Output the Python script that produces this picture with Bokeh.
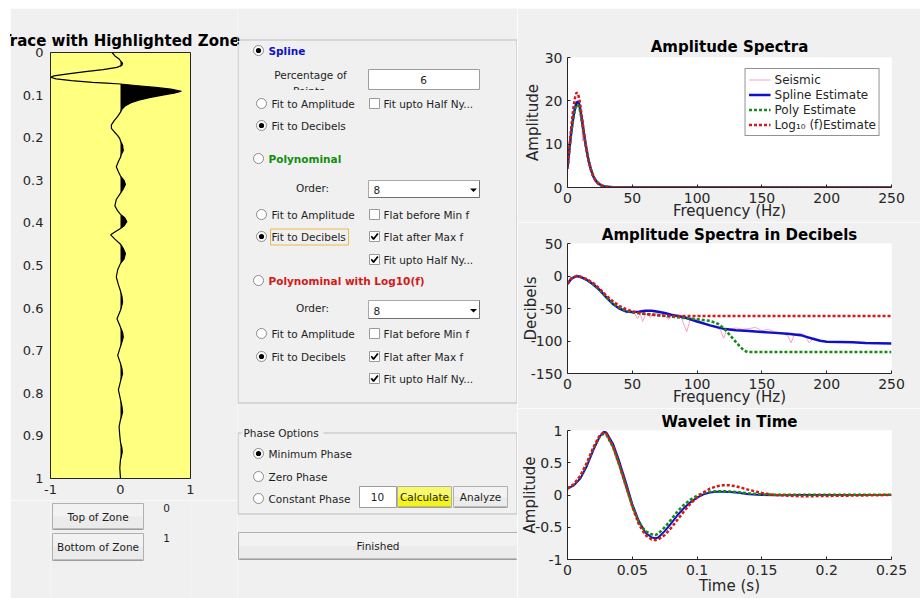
import numpy as np
from bokeh.plotting import figure
from bokeh.layouts import row, column
from bokeh.models import Range1d, FixedTicker, Label, Legend, LegendItem, Spacer
from bokeh.core.properties import value
from bokeh.embed import file_html
from bokeh.resources import INLINE

FONT = "DejaVu Sans"
PANEL = "#f0f0f0"
INK = "#262626"
TXT = "#1e1e1e"
BLUE = "#1010c8"
GREEN = "#128c12"
RED = "#d01a1a"
PINK = "#f7a3c9"

# ---------------- seismic trace (time in s, normalised amplitude) ----------------
trace_time = [0.000, 0.008, 0.015, 0.020, 0.025, 0.030, 0.035, 0.040, 0.045, 0.050,
              0.055, 0.058, 0.062, 0.066, 0.070, 0.072, 0.074, 0.078, 0.082, 0.086,
              0.091, 0.095, 0.100, 0.106, 0.112, 0.118, 0.125, 0.132, 0.140, 0.150,
              0.160, 0.170, 0.178, 0.186, 0.195, 0.202, 0.208, 0.218, 0.230, 0.240,
              0.246, 0.256, 0.268, 0.280, 0.290, 0.300, 0.310, 0.320, 0.330, 0.345,
              0.360, 0.372, 0.380, 0.388, 0.397, 0.407, 0.413, 0.420, 0.428, 0.438,
              0.450, 0.460, 0.472, 0.485, 0.495, 0.510, 0.527, 0.545, 0.560, 0.572,
              0.586, 0.600, 0.605, 0.625, 0.645, 0.657, 0.668, 0.680, 0.690, 0.711,
              0.730, 0.742, 0.754, 0.766, 0.772, 0.792, 0.815, 0.830, 0.844, 0.857,
              0.862, 0.878, 0.900, 0.915, 0.928, 0.938, 0.950, 0.955, 0.975, 1.000]
trace_amp = [-0.12, -0.08, -0.02, 0.00, 0.03, 0.02, -0.05, -0.25, -0.50, -0.75,
             -0.95, -1.00, -0.92, -0.70, -0.40, -0.20, 0.00, 0.25, 0.50, 0.72,
             0.87, 0.78, 0.60, 0.41, 0.26, 0.15, 0.07, 0.025, 0.00, -0.04,
             -0.09, -0.13, -0.13, -0.09, -0.04, -0.01, 0.00, 0.03, 0.04, 0.01,
             0.00, -0.03, -0.06, -0.03, 0.00, 0.05, 0.07, 0.04, 0.00, -0.06,
             -0.08, -0.04, 0.00, 0.06, 0.09, 0.05, 0.00, -0.07, -0.14, -0.08,
             0.00, 0.04, 0.07, 0.05, 0.00, -0.04, -0.06, -0.03, 0.00, 0.02,
             0.03, 0.01, 0.00, -0.05, 0.00, 0.03, 0.04, 0.02, 0.00, -0.04,
             0.00, 0.02, 0.03, 0.01, 0.00, -0.03, 0.00, 0.02, 0.03, 0.01,
             0.00, -0.02, -0.01, 0.00, 0.02, 0.025, 0.01, 0.00, -0.01, 0.00]
trace_x_ticks = [-1, 0, 1]
trace_x_labels = ["-1", "0", "1"]
trace_y_ticks = [0, 0.1, 0.2, 0.3, 0.4, 0.5, 0.6, 0.7, 0.8, 0.9, 1]
trace_y_labels = ["0", "0.1", "0.2", "0.3", "0.4", "0.5", "0.6", "0.7", "0.8", "0.9", "1"]

# ---------------- amplitude spectra ----------------
amp_freq = [0, 1, 2, 3, 4, 5, 6, 7, 8, 9, 10, 12, 14, 16, 18, 20, 22, 24, 26, 28, 30, 35, 40, 250]
spline_amp = [4.6, 7.5, 10.3, 13.0, 15.2, 17.1, 18.6, 19.6, 19.8, 19.2, 17.8, 13.8, 9.9, 6.6,
              4.2, 2.5, 1.5, 0.9, 0.5, 0.3, 0.15, 0.05, 0.02, 0.0]
poly_amp = [4.4, 7.4, 10.2, 12.9, 15.0, 16.8, 18.2, 19.0, 19.1, 18.5, 17.2, 13.6, 9.9, 6.7,
            4.3, 2.6, 1.6, 0.95, 0.55, 0.3, 0.15, 0.05, 0.02, 0.0]
log_amp = [4.3, 7.6, 11.0, 14.2, 17.0, 19.3, 21.0, 21.9, 21.7, 20.6, 18.8, 14.2, 9.9, 6.5,
           4.1, 2.4, 1.4, 0.8, 0.45, 0.25, 0.12, 0.04, 0.02, 0.0]
seis_amp_freq = [0, 1, 2, 3, 4, 5, 6, 7, 8, 9, 10, 11, 11.5, 12, 14, 16, 18, 20, 22, 24, 26,
                 28, 30, 35, 40, 250]
seis_amp = [4.5, 7.6, 10.4, 13.2, 15.6, 17.5, 19.0, 19.9, 20.1, 19.5, 18.2, 16.5, 10.8, 15.8,
            10.0, 6.8, 4.4, 2.5, 1.6, 0.9, 0.6, 0.3, 0.2, 0.05, 0.02, 0.0]
freq_ticks = [0, 50, 100, 150, 200, 250]
freq_labels = ["0", "50", "100", "150", "200", "250"]
amp_ticks = [0, 10, 20, 30]
amp_labels = ["0", "10", "20", "30"]

# ---------------- spectra in decibels ----------------
seis_db_freq = [0, 3, 7, 10, 15, 20, 25, 30, 35, 40, 45, 50, 52, 54, 56, 58, 60, 62, 64, 66,
                70, 75, 78, 80, 85, 88, 92, 95, 100, 105, 110, 115, 118, 120.5, 123, 127, 130,
                135, 140, 145, 150, 155, 160, 165, 170, 172.5, 175, 180, 183, 186.5, 190, 195,
                200, 210, 220, 230, 240, 250]
seis_db = [-13, -4.5, 0, -1.5, -6, -13, -22, -33, -43, -49, -53, -56, -58, -66, -58, -70, -60,
           -58, -64, -57, -58, -60, -67, -60, -61, -65, -86, -64, -67, -72, -76, -80, -83, -96,
           -82, -81, -80, -82, -81, -79, -84, -82, -86, -87, -92, -103, -90, -88, -91, -103,
           -95, -100, -101, -101.5, -102, -103, -103.5, -104]
spline_db_freq = [0, 3, 7, 10, 15, 20, 25, 30, 35, 40, 45, 50, 55, 60, 65, 70, 75, 80, 90, 100,
                  110, 120, 130, 140, 150, 160, 170, 180, 185, 190, 195, 200, 210, 220, 230,
                  240, 250]
spline_db = [-12, -4, 0, -1.5, -6, -13, -22, -33, -43, -50, -54.5, -55.5, -55, -53.5, -53.5,
             -55, -57, -59.5, -63.5, -70, -76, -81, -83.5, -84.5, -86, -87.5, -89, -91, -94,
             -97, -99.5, -101, -101.5, -102, -103, -103.5, -104]
poly_db_freq = [0, 3, 7, 10, 15, 20, 25, 30, 35, 40, 45, 50, 55, 60, 65, 70, 75, 80, 90, 100,
                110, 116, 121, 126, 131, 136, 139, 250]
poly_db = [-12, -4, 0, -1.5, -6, -13, -22, -33, -42, -49, -53.5, -56, -57.5, -58.5, -59.5,
           -60.5, -61.5, -62.5, -64.5, -66.5, -69, -73.5, -81, -92.5, -104, -114.5, -117, -117]
log_db_freq = [0, 3, 7, 10, 15, 20, 25, 30, 35, 40, 45, 50, 55, 60, 65, 70, 75, 80, 250]
log_db = [-12, -4, 0, -1, -5, -11, -20, -30, -39, -46, -51, -54.5, -56.5, -58, -59.5, -60.5,
          -61, -61.5, -61.5]
db_ticks = [-150, -100, -50, 0, 50]
db_labels = ["-150", "-100", "-50", "0", "50"]

# ---------------- wavelets in time ----------------
wav_time = [0, 0.005, 0.01, 0.015, 0.02, 0.025, 0.028, 0.03, 0.035, 0.04, 0.045, 0.05, 0.055,
            0.06, 0.065, 0.068, 0.07, 0.075, 0.08, 0.085, 0.09, 0.095, 0.1, 0.105, 0.11,
            0.115, 0.12, 0.125, 0.13, 0.14, 0.15, 0.16, 0.18, 0.2, 0.25]
spline_wav = [0.10, 0.15, 0.26, 0.45, 0.70, 0.91, 0.98, 0.97, 0.80, 0.52, 0.20, -0.14, -0.40,
              -0.58, -0.66, -0.67, -0.66, -0.56, -0.44, -0.31, -0.20, -0.11, -0.04, 0.01,
              0.04, 0.05, 0.05, 0.045, 0.04, 0.01, 0.0, -0.005, 0.0, 0.0, 0.0]
poly_wav = [0.10, 0.16, 0.29, 0.49, 0.72, 0.91, 0.95, 0.93, 0.75, 0.46, 0.14, -0.17, -0.42,
            -0.56, -0.61, -0.62, -0.60, -0.50, -0.38, -0.25, -0.15, -0.07, -0.01, 0.03, 0.05,
            0.06, 0.06, 0.055, 0.045, 0.025, 0.01, 0.005, 0.005, 0.005, 0.005]
log_wav = [0.10, 0.17, 0.30, 0.50, 0.74, 0.93, 0.97, 0.95, 0.76, 0.47, 0.15, -0.18, -0.45,
           -0.62, -0.69, -0.70, -0.69, -0.62, -0.51, -0.38, -0.25, -0.13, -0.04, 0.04, 0.10,
           0.135, 0.15, 0.15, 0.135, 0.08, 0.03, 0.0, -0.02, -0.015, 0.0]
time_ticks = [0, 0.05, 0.1, 0.15, 0.2, 0.25]
time_labels = ["0", "0.05", "0.1", "0.15", "0.2", "0.25"]
wav_ticks = [-1, -0.5, 0, 0.5, 1]
wav_labels = ["-1", "-0.5", "0", "0.5", "1"]


def style_axis(ax, ticks, labels, size="14px", standoff=7, tick_in=3):
    ax.ticker = FixedTicker(ticks=ticks)
    ax.major_label_overrides = dict(zip(ticks, labels))
    ax.axis_line_color = INK
    ax.major_tick_line_color = INK
    ax.major_tick_in = tick_in
    ax.major_tick_out = 0
    ax.minor_tick_line_color = None
    ax.major_label_text_font = FONT
    ax.major_label_text_font_size = size
    ax.major_label_text_color = INK
    ax.major_label_standoff = standoff


def axis_title(ax, text, standoff):
    ax.axis_label = text
    ax.axis_label_text_font = FONT
    ax.axis_label_text_font_size = "15px"
    ax.axis_label_text_font_style = "normal"
    ax.axis_label_text_color = INK
    ax.axis_label_standoff = standoff


def plot_title(p, text, standoff):
    p.title.text = text
    p.title.align = "center"
    p.title.text_font = FONT
    p.title.text_font_size = "15px"
    p.title.text_font_style = "bold"
    p.title.text_color = "black"
    p.title.standoff = standoff


# ---------------- trace panel ----------------
tf = figure(width=227, height=492, x_range=Range1d(-1, 1), y_range=Range1d(1, 0),
            output_backend="svg", toolbar_location=None,
            min_border_left=40, min_border_right=47, min_border_top=44, min_border_bottom=22,
            background_fill_color="#ffff80", border_fill_color=PANEL,
            outline_line_color=INK, outline_line_width=1)
tf.grid.visible = False
pos_part = np.clip(np.array(trace_amp), 0, None)
tf.harea(x1=np.zeros(len(trace_time)), x2=pos_part, y=trace_time, fill_color="black")
tf.line(x=trace_amp, y=trace_time, line_color="black", line_width=1.2)
style_axis(tf.xaxis[0], trace_x_ticks, trace_x_labels, size="13px", standoff=6, tick_in=0)
style_axis(tf.yaxis[0], trace_y_ticks, trace_y_labels, size="13px", standoff=7, tick_in=0)
plot_title(tf, "Trace with Highlighted Zone", 6)


def gui_figure(width, height, x0, x1, y0, y1, **kw):
    f = figure(width=width, height=height, x_range=Range1d(x0, x1), y_range=Range1d(y1, y0),
               x_axis_type=None, y_axis_type=None,
               background_fill_color=PANEL, border_fill_color=PANEL, outline_line_color=None,
               output_backend="svg", toolbar_location=None, **kw)
    f.grid.visible = False
    return f


def txt(f, x, y, s, size="10.5px", color=TXT, bold=False, align="left"):
    f.text(x=[x], y=[y], text=[s], text_font=value(FONT), text_font_size=size,
           text_color=color, text_font_style="bold" if bold else "normal",
           text_align=align, text_baseline="middle")


def box(f, x0, y0, x1, y1, fill, line="#a4a4a4"):
    f.quad(left=x0, right=x1, top=y0, bottom=y1, fill_color=fill, line_color=line, line_width=1)


def button(f, x0, y0, x1, y1, label, fill="#ebebeb"):
    f.quad(left=x0, right=x1, top=y0, bottom=y1, fill_color=fill, line_color=None)
    f.quad(left=x0, right=x1, top=y0, bottom=(y0 + y1) / 2, fill_color="white",
           fill_alpha=0.35, line_color=None)
    f.line(x=[x0, x1, x1, x0, x0], y=[y0, y0, y1, y1, y0], line_color="#b0b0b0", line_width=1)
    f.line(x=[x0 + 1, x1 - 1], y=[y1 - 0.5, y1 - 0.5], line_color="#8c8c8c", line_width=1)
    txt(f, (x0 + x1) / 2, (y0 + y1) / 2, label, align="center")


def radio(f, x, y, on):
    f.circle(x=[x], y=[y], radius=5, fill_color="white", line_color="#8a8a8a", line_width=1)
    if on:
        f.circle(x=[x], y=[y], radius=2.6, fill_color="black", line_color=None)


def checkbox(f, x, y, on):
    f.quad(left=x - 5, right=x + 5, top=y - 5, bottom=y + 5, fill_color="white",
           line_color="#9a9a9a", line_width=1)
    if on:
        f.line(x=[x - 3.2, x - 1, x + 3.4], y=[y - 0.2, y + 2.6, y - 3], line_color="black",
               line_width=1.7)


def dropdown(f, x0, y0, x1, y1, s):
    box(f, x0, y0, x1, y1, "white", "#a8a8a8")
    f.line(x=[x0, x1], y=[y1, y1], line_color="#707070", line_width=1)
    f.line(x=[x1, x1], y=[y0, y1], line_color="#707070", line_width=1)
    txt(f, x0 + 5, (y0 + y1) / 2 + 1, s)
    cx, cy = x1 - 6, (y0 + y1) / 2 + 1
    f.patch(x=[cx - 3.5, cx + 3.5, cx], y=[cy - 1.5, cy - 1.5, cy + 2], fill_color="black",
            line_color=None)


def frame_outline(f, x0, y0, x1, y1, gap=None):
    col = "#bcbcbc"
    segs_x = [[x0, x0, x1, x1]]
    segs_y = [[y0, y1, y1, y0]]
    if gap is None:
        segs_x.append([x0, x1])
        segs_y.append([y0, y0])
    else:
        segs_x += [[x0, gap[0]], [gap[1], x1]]
        segs_y += [[y0, y0], [y0, y0]]
    f.multi_line(xs=segs_x, ys=segs_y, line_color=col, line_width=1)


# ---------------- zone buttons under the trace (frame shares the trace's columns) ----------------
bf = gui_figure(227, 98, 50, 190, 500, 598, min_border_left=40, min_border_right=47,
                min_border_top=0, min_border_bottom=0)
button(bf, 52, 503, 143, 529, "Top of Zone")
button(bf, 52, 533, 143, 560, "Bottom of Zone")
txt(bf, 166, 507, "0", align="center")
txt(bf, 166, 537, "1", align="center")

# ---------------- fitting options panel ----------------
g = gui_figure(280, 590, 237, 517, 8, 598, min_border=0)
frame_outline(g, 237.5, 39.5, 516.5, 402.5)
g.add_layout(Label(x=120, y=39, text="Trace with Highlighted Zone", text_align="center",
                   text_baseline="middle", text_font=FONT, text_font_size="15px",
                   text_font_style="bold", text_color="black"))

radio(g, 258, 50, True)
txt(g, 268, 50, "Spline", color=BLUE, bold=True)
txt(g, 310, 74, "Percentage of", align="center")
txt(g, 310, 90, "Points:", align="center")
g.quad(left=280, right=340, top=89.5, bottom=97, fill_color=PANEL, line_color=None)
box(g, 368, 69, 479, 89, "white", "#9c9c9c")
txt(g, 423, 79, "6", align="center")
radio(g, 261, 103, False)
txt(g, 271, 103, "Fit to Amplitude")
checkbox(g, 374, 103, False)
txt(g, 383, 103, "Fit upto Half Ny...")
radio(g, 261, 125, True)
txt(g, 271, 125, "Fit to Decibels")

radio(g, 258, 158, False)
txt(g, 268, 158, "Polynominal", color=GREEN, bold=True)
txt(g, 312, 187, "Order:", align="center")
dropdown(g, 368, 180, 479, 197, "8")
radio(g, 261, 214, False)
txt(g, 271, 214, "Fit to Amplitude")
checkbox(g, 374, 214, False)
txt(g, 383, 214, "Flat before Min f")
radio(g, 261, 236, True)
g.quad(left=270, right=348, top=228.5, bottom=244.5, fill_color=None, line_color="#f0b848",
       line_width=1)
txt(g, 271, 236, "Fit to Decibels")
checkbox(g, 374, 236, True)
txt(g, 383, 236, "Flat after Max f")
checkbox(g, 374, 259, True)
txt(g, 383, 259, "Fit upto Half Ny...")

radio(g, 258, 280, False)
txt(g, 268, 280, "Polynominal with Log10(f)", color=RED, bold=True)
txt(g, 312, 307, "Order:", align="center")
dropdown(g, 368, 300, 479, 318, "8")
radio(g, 261, 333, False)
txt(g, 271, 333, "Fit to Amplitude")
checkbox(g, 374, 333, False)
txt(g, 383, 333, "Flat before Min f")
radio(g, 261, 356, True)
txt(g, 271, 356, "Fit to Decibels")
checkbox(g, 374, 356, True)
txt(g, 383, 356, "Flat after Max f")
checkbox(g, 374, 378, True)
txt(g, 383, 378, "Fit upto Half Ny...")

# phase options group
frame_outline(g, 237.5, 432.5, 516.5, 513.5, gap=(241, 323))
txt(g, 243, 432, "Phase Options")
radio(g, 258, 453, True)
txt(g, 268, 453, "Minimum Phase")
radio(g, 258, 476, False)
txt(g, 268, 476, "Zero Phase")
radio(g, 258, 498, False)
txt(g, 268, 498, "Constant Phase")
box(g, 359, 486, 396, 507, "white", "#9c9c9c")
txt(g, 377, 496.5, "10", align="center")
button(g, 397, 486, 451, 507, "Calculate", fill="#f4f41c")
button(g, 453, 486, 507, 507, "Analyze")
button(g, 238, 532, 517, 559, "Finished")


# ---------------- spectra and wavelet axes ----------------
def axes_fig(height, xr, yr, top, bottom):
    p = figure(width=403, height=height, x_range=xr, y_range=yr,
               output_backend="svg", toolbar_location=None,
               min_border_left=50, min_border_right=29, min_border_top=top,
               min_border_bottom=bottom, background_fill_color="white",
               border_fill_color=PANEL, outline_line_color=None)
    p.grid.visible = False
    return p


p1 = axes_fig(214, Range1d(0, 250), Range1d(0, 30), 49, 35)
r_seis = p1.line(seis_amp_freq, seis_amp, line_color=PINK, line_width=1)
r_spl = p1.line(amp_freq, spline_amp, line_color=BLUE, line_width=2.5)
r_poly = p1.line(amp_freq, poly_amp, line_color=GREEN, line_width=2.5, line_dash="3 2")
r_log = p1.line(amp_freq, log_amp, line_color=RED, line_width=2.5, line_dash="3 2")
style_axis(p1.xaxis[0], freq_ticks, freq_labels, standoff=5)
style_axis(p1.yaxis[0], amp_ticks, amp_labels, standoff=5)
axis_title(p1.xaxis[0], "Frequency (Hz)", -4)
axis_title(p1.yaxis[0], "Amplitude", 0)
plot_title(p1, "Amplitude Spectra", 4)
legend = Legend(items=[LegendItem(label="Seismic", renderers=[r_seis]),
                       LegendItem(label="Spline Estimate", renderers=[r_spl]),
                       LegendItem(label="Poly Estimate", renderers=[r_poly]),
                       LegendItem(label="Log\u2081\u2080 (f)Estimate", renderers=[r_log])],
                location="top_right", margin=11, padding=3, spacing=0,
                glyph_width=22, glyph_height=15, label_height=15, label_standoff=4,
                label_text_font=FONT, label_text_font_size="12px", label_text_color=INK,
                border_line_color=INK, border_line_width=1,
                background_fill_color="white", background_fill_alpha=1.0)
p1.add_layout(legend)

p2 = axes_fig(186, Range1d(0, 250), Range1d(-150, 50), 21, 35)
p2.line(seis_db_freq, seis_db, line_color=PINK, line_width=1)
p2.line(spline_db_freq, spline_db, line_color=BLUE, line_width=2.5)
p2.line(poly_db_freq, poly_db, line_color=GREEN, line_width=2.5, line_dash="3 2")
p2.line(log_db_freq, log_db, line_color=RED, line_width=2.5, line_dash="3 2")
style_axis(p2.xaxis[0], freq_ticks, freq_labels, standoff=5)
style_axis(p2.yaxis[0], db_ticks, db_labels, standoff=5)
axis_title(p2.xaxis[0], "Frequency (Hz)", -4)
axis_title(p2.yaxis[0], "Decibels", -12)
plot_title(p2, "Amplitude Spectra in Decibels", 0)

p3 = axes_fig(190, Range1d(0, 0.25), Range1d(-1, 1), 22, 39)
p3.line(wav_time, spline_wav, line_color=BLUE, line_width=2)
p3.line(wav_time, poly_wav, line_color=GREEN, line_width=2.5, line_dash="3 2")
p3.line(wav_time, log_wav, line_color=RED, line_width=2.5, line_dash="3 2")
style_axis(p3.xaxis[0], time_ticks, time_labels, standoff=5)
style_axis(p3.yaxis[0], wav_ticks, wav_labels, standoff=5)
axis_title(p3.xaxis[0], "Time (s)", -1)
axis_title(p3.yaxis[0], "Amplitude", -7)
plot_title(p3, "Wavelet in Time", 0)

left_col = column(tf, bf)
right_col = column(p1, p2, p3)
body = row(Spacer(width=10, height=590), left_col, g, right_col)
page = column(Spacer(width=920, height=8), body)

open("out.html", "w").write(file_html(page, INLINE))
